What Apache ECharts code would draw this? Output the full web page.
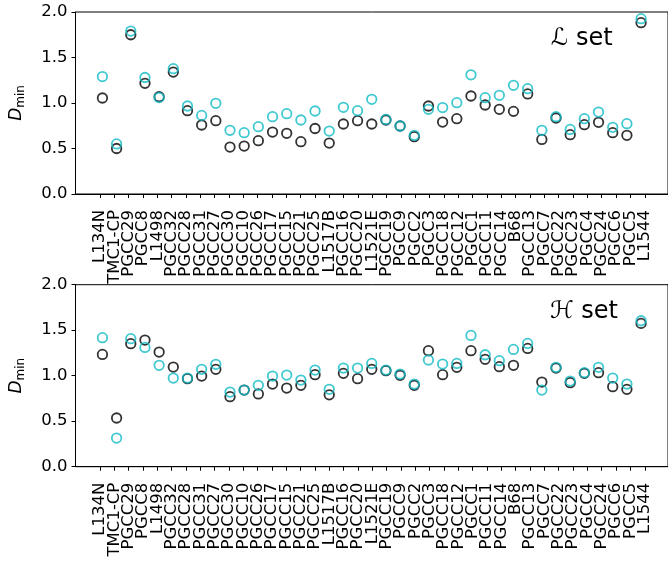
<!DOCTYPE html>
<html>
<head>
<meta charset="utf-8">
<script src="https://cdn.jsdelivr.net/npm/echarts@6/dist/echarts.min.js"></script>
<style>
  html, body { margin: 0; padding: 0; background: #fff; }
  #chart { width: 668px; height: 561px; }
</style>
</head>
<body>
<div id="chart"></div>
<script>
const cores = ['L134N', 'TMC1-CP', 'PGCC29', 'PGCC8', 'L1498', 'PGCC32', 'PGCC28', 'PGCC31', 'PGCC27', 'PGCC30',
  'PGCC10', 'PGCC26', 'PGCC17', 'PGCC15', 'PGCC21', 'PGCC25', 'L1517B', 'PGCC16', 'PGCC20', 'L1521E',
  'PGCC19', 'PGCC9', 'PGCC2', 'PGCC3', 'PGCC18', 'PGCC12', 'PGCC1', 'PGCC11', 'PGCC14', 'B68',
  'PGCC13', 'PGCC7', 'PGCC22', 'PGCC23', 'PGCC4', 'PGCC24', 'PGCC6', 'PGCC5', 'L1544']

// L set
const setL_black = [1.055, 0.50, 1.75, 1.216, 1.07, 1.34, 0.916, 0.758, 0.806, 0.516,
  0.527, 0.586, 0.681, 0.667, 0.575, 0.72, 0.56, 0.769, 0.806, 0.769,
  0.813, 0.747, 0.63, 0.967, 0.79, 0.828, 1.077, 0.978, 0.93, 0.908,
  1.10, 0.60, 0.835, 0.652, 0.762, 0.788, 0.674, 0.645, 1.883]
const setL_cyan = [1.29, 0.55, 1.79, 1.28, 1.06, 1.377, 0.967, 0.864, 0.996, 0.70,
  0.674, 0.74, 0.85, 0.883, 0.813, 0.912, 0.692, 0.952, 0.916, 1.04,
  0.82, 0.747, 0.645, 0.93, 0.95, 1.004, 1.31, 1.059, 1.084, 1.194,
  1.157, 0.70, 0.85, 0.71, 0.828, 0.90, 0.733, 0.773, 1.927]

// H set
const setH_black = [1.234, 0.535, 1.352, 1.392, 1.26, 1.095, 0.967, 0.996, 1.07, 0.77,
  0.842, 0.80, 0.908, 0.864, 0.894, 1.011, 0.79, 1.026, 0.967, 1.07,
  1.055, 1.004, 0.894, 1.275, 1.011, 1.092, 1.275, 1.18, 1.099, 1.114,
  1.30, 0.93, 1.084, 0.923, 1.026, 1.033, 0.879, 0.85, 1.575]
const setH_cyan = [1.418, 0.315, 1.407, 1.311, 1.114, 0.974, 0.974, 1.07, 1.125, 0.82,
  0.842, 0.894, 0.996, 1.007, 0.952, 1.062, 0.85, 1.084, 1.084, 1.135,
  1.062, 1.018, 0.908, 1.172, 1.128, 1.135, 1.443, 1.23, 1.165, 1.289,
  1.355, 0.842, 1.092, 0.941, 1.033, 1.092, 0.974, 0.908, 1.604]

const CYAN = '#10bcc6'
const INK = '#000'
const FONT = 'DejaVu Sans'

// x range like matplotlib's 5% margins around 0..38
const X_MIN = -1.9
const X_MAX = 39.9
const LEFT = 72.7
const RIGHT = -4
const plotW = 668 - LEFT - RIGHT
const unit = plotW / (X_MAX - X_MIN)
const firstX = LEFT + (0 - X_MIN) * unit
const lastX = LEFT + (cores.length - 1 - X_MIN) * unit
const TOPS = [12, 284.7]
const H = 182

const toPts = (arr) => arr.map((v, i) => [i, v])

// value axis for the marks and frame
const makeX = (gridIndex) => ({
  type: 'value',
  gridIndex: gridIndex,
  min: X_MIN,
  max: X_MAX,
  axisLine: { show: true, onZero: false, lineStyle: { color: INK, width: 1 } },
  axisTick: { show: false },
  axisLabel: { show: false },
  splitLine: { show: false }
})

// category axis only for the ticks + names, sitting on the same baseline
const makeNames = (gridIndex) => ({
  type: 'category',
  gridIndex: gridIndex,
  data: cores,
  boundaryGap: false,
  axisLine: { show: false },
  axisTick: { show: true, interval: 0, length: 4, lineStyle: { color: INK, width: 1 } },
  axisLabel: {
    interval: 0,
    rotate: 90,
    margin: 16,
    color: INK,
    fontFamily: FONT,
    fontSize: 16.5
  },
  splitLine: { show: false }
})

const makeY = (gridIndex) => ({
  type: 'value',
  gridIndex: gridIndex,
  min: 0,
  max: 2,
  interval: 0.5,
  name: '{d|D}{s|min}',
  nameLocation: 'middle',
  nameGap: 49,
  nameRotate: 90,
  nameTextStyle: {
    rich: {
      d: { fontFamily: FONT, fontStyle: 'italic', fontSize: 17, color: INK },
      s: { fontFamily: FONT, fontSize: 12, color: INK, padding: [8, 0, 0, 0] }
    }
  },
  axisLine: { show: true, onZero: false, lineStyle: { color: INK, width: 1 } },
  axisTick: { show: true, length: 4, lineStyle: { color: INK, width: 1 } },
  axisLabel: {
    color: INK,
    fontFamily: FONT,
    fontSize: 16.5,
    margin: 8,
    formatter: (v) => v.toFixed(1)
  },
  splitLine: { show: false }
})

const hiddenY = (gridIndex) => ({ type: 'value', gridIndex: gridIndex, show: false, min: 0, max: 2 })

const ring = (name, data, color, xi, yi) => ({
  name: name,
  type: 'scatter',
  xAxisIndex: xi,
  yAxisIndex: yi,
  data: toPts(data),
  symbol: 'circle',
  symbolSize: 9.5,
  itemStyle: { color: 'rgba(0,0,0,0)', borderColor: color, borderWidth: 1.8 },
  emphasis: { disabled: true },
  silent: true
})

const option = {
  animation: false,
  backgroundColor: '#fff',
  grid: [
    { left: LEFT, top: TOPS[0], right: RIGHT, height: H, show: true, borderColor: INK, borderWidth: 1 },
    { left: LEFT, top: TOPS[1], right: RIGHT, height: H, show: true, borderColor: INK, borderWidth: 1 },
    { left: firstX, top: TOPS[0], right: 668 - lastX, height: H },
    { left: firstX, top: TOPS[1], right: 668 - lastX, height: H }
  ],
  xAxis: [makeX(0), makeX(1), makeNames(2), makeNames(3)],
  yAxis: [makeY(0), makeY(1), hiddenY(2), hiddenY(3)],
  graphic: [
    { type: 'text', left: 551, top: 27, style: { text: 'ℒ set', font: '24px "DejaVu Sans"', fill: INK } },
    { type: 'text', left: 550, top: 300, style: { text: 'ℋ set', font: '24px "DejaVu Sans"', fill: INK } }
  ],
  series: [
    ring('L black', setL_black, INK, 0, 0),
    ring('L cyan', setL_cyan, CYAN, 0, 0),
    ring('H black', setH_black, INK, 1, 1),
    ring('H cyan', setH_cyan, CYAN, 1, 1)
  ]
}

window.addEventListener('load', () => {
  const chart = echarts.init(document.getElementById('chart'))
  chart.setOption(option)
})
</script>
</body>
</html>
